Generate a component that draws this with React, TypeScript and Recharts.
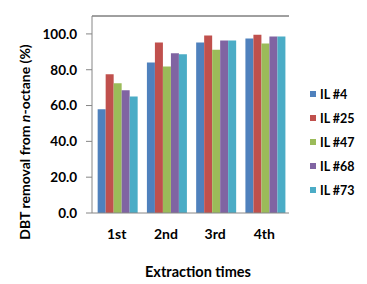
import { BarChart, Bar, XAxis, YAxis, ReferenceLine } from 'recharts';

const categories = ['1st', '2nd', '3rd', '4th'];
const seriesNames = ['IL #4', 'IL #25', 'IL #47', 'IL #68', 'IL #73'];
const seriesColors = ['#4F81BD', '#C0504D', '#9BBB59', '#8064A2', '#4BACC6'];
const il4 = [57.9, 84.0, 95.2, 97.4];
const il25 = [77.5, 95.2, 99.1, 99.6];
const il47 = [72.4, 81.8, 91.2, 94.6];
const il68 = [68.5, 89.2, 96.3, 98.5];
const il73 = [65.0, 88.6, 96.3, 98.5];
const yTicks = [0, 20, 40, 60, 80, 100];
const boundaryTicks = [0, 1, 2, 3, 4];

const seriesValues = [il4, il25, il47, il68, il73];
const data = categories.map((name, i) => {
  const row: Record<string, any> = { name };
  seriesNames.forEach((s, k) => { row[s] = seriesValues[k][i]; });
  return row;
});

const FONT = 'Lato, "Open Sans", sans-serif';
const AXIS = '#868686';

export default function App() {
  return (
    <div style={{ position: 'absolute', left: 0, top: 0, width: 367, height: 284, background: '#fff', fontFamily: FONT }}>
      <BarChart
        width={367}
        height={284}
        data={data}
        margin={{ top: 16, right: 78, bottom: 0, left: 0 }}
        barCategoryGap="11.5%"
        barGap={0}
      >
        <XAxis
          xAxisId="edges"
          type="number"
          domain={[0, 4]}
          ticks={boundaryTicks}
          height={0}
          axisLine={false}
          tickLine={{ stroke: AXIS }}
          tickSize={5}
          tickFormatter={() => ''}
        />
        <XAxis
          dataKey="name"
          height={71}
          axisLine={{ stroke: AXIS }}
          tickLine={false}
          tickSize={6}
          tickMargin={10}
          tick={{ fill: '#000', fontSize: 14, fontWeight: 'bold', fontFamily: FONT }}
          label={{
            content: () => (
              <text x={198} y={277} textAnchor="middle" fontSize={14.5} fontWeight="bold" fill="#000" fontFamily={FONT}>
                Extraction times
              </text>
            ),
          }}
        />
        <YAxis
          width={92}
          domain={[0, 110]}
          ticks={yTicks}
          interval={0}
          axisLine={{ stroke: AXIS }}
          tickLine={{ stroke: AXIS }}
          tickSize={6}
          tickMargin={9}
          tickFormatter={(v: number) => v.toFixed(1)}
          tick={{ fill: '#000', fontSize: 13.5, fontWeight: 'bold', fontFamily: FONT }}
          label={{
            content: () => (
              <text
                x={24}
                y={142}
                transform="rotate(-90 24 142)"
                textAnchor="middle"
                dominantBaseline="central"
                fontSize={14}
                fontWeight="bold"
                fill="#000"
                fontFamily={FONT}
              >
                DBT removal from <tspan fontStyle="italic">n</tspan>-octane (%)
              </text>
            ),
          }}
        />
        <ReferenceLine y={110} stroke="#404040" />
        <ReferenceLine xAxisId="edges" x={4} stroke="#404040" />
        {seriesNames.map((s, k) => (
          <Bar key={s} dataKey={s} fill={seriesColors[k]} isAnimationActive={false} />
        ))}
      </BarChart>
      <div style={{ position: 'absolute', left: 310, top: 82 }}>
        {seriesNames.map((s, k) => (
          <div key={s} style={{ display: 'flex', alignItems: 'center', height: 24, fontSize: 12.5, fontWeight: 'bold', color: '#000' }}>
            <span style={{ display: 'inline-block', width: 6, height: 6, background: seriesColors[k], marginRight: 4 }} />
            {s}
          </div>
        ))}
      </div>
    </div>
  );
}
